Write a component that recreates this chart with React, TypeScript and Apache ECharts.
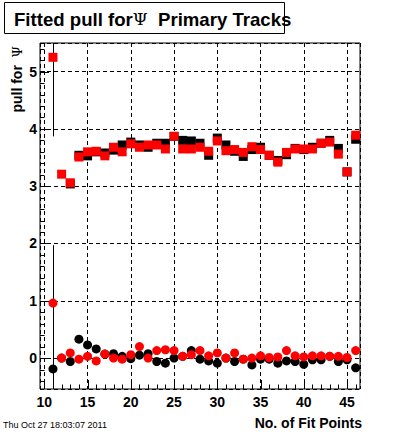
import React, { useEffect, useRef } from "react";
import * as echarts from "echarts";

const fitPoints = [11, 12, 13, 14, 15, 16, 17, 18, 19, 20, 21, 22, 23, 24, 25, 26, 27, 28, 29, 30, 31, 32, 33, 34, 35, 36, 37, 38, 39, 40, 41, 42, 43, 44, 45, 46];

const redSquare = [5.25, 3.21, 3.06, 3.51, 3.6, 3.61, 3.53, 3.68, 3.6, 3.74, 3.68, 3.72, 3.72, 3.65, 3.87, 3.65, 3.65, 3.68, 3.61, 3.79, 3.62, 3.64, 3.59, 3.69, 3.64, 3.54, 3.42, 3.59, 3.65, 3.65, 3.65, 3.75, 3.77, 3.56, 3.25, 3.89];
const blackSquare = [null, null, 3.04, 3.54, 3.53, 3.6, 3.58, 3.63, 3.72, 3.77, 3.72, 3.68, 3.75, 3.75, 3.87, 3.8, 3.79, 3.75, 3.54, 3.84, 3.72, 3.61, 3.52, 3.64, 3.68, 3.54, 3.45, 3.55, 3.66, 3.64, 3.68, 3.75, 3.8, 3.66, 3.25, 3.82];
const redCircle = [0.96, 0.0, 0.09, -0.02, 0.03, -0.05, 0.07, 0.0, -0.02, 0.06, 0.2, 0.0, 0.13, 0.145, 0.13, 0.03, 0.06, 0.13, 0.04, 0.09, 0.0, 0.09, -0.02, 0.0, 0.04, 0.01, 0.02, 0.13, 0.04, 0.02, 0.04, 0.04, 0.03, 0.03, 0.01, 0.13];
const blackCircle = [-0.19, 0.0, -0.06, 0.33, 0.23, 0.16, 0.07, 0.075, 0.03, -0.01, 0.05, 0.075, -0.06, -0.09, 0.0, 0.03, 0.13, -0.02, -0.05, -0.09, 0.0, -0.06, -0.02, -0.12, -0.02, -0.02, -0.09, -0.05, -0.06, -0.11, -0.03, -0.03, 0.03, -0.06, -0.03, -0.17];

// [x, low, high]
const errorBars = [
  [11, 3.87, 6.8],
  [11, -1.2, 1.97],
];

const X_MIN = 9.5;
const X_MAX = 46.5;
const Y_MIN = -0.54;
const Y_MAX = 5.5;

const titleText = "Fitted pull for{p|Ψ}  Primary Tracks";
const yTitle = "pull for  {p|Ψ}";
const xTitle = "No. of Fit Points";
const dateText = "Thu Oct 27 18:03:07 2011";

const pairs = (ys: (number | null)[]) =>
  fitPoints
    .map((x, i) => (ys[i] == null ? null : [x, ys[i]]))
    .filter((p) => p != null);

// tick marks: [x, y, length, direction(0 = x axis, 1 = y axis)]
const buildTicks = () => {
  const t: number[][] = [];
  for (let v = 10; v <= 46; v++) t.push([v, Y_MIN, v % 5 === 0 ? 9 : 4.5, 0]);
  for (let k = -2; k <= 27; k++) t.push([X_MIN, k / 5, k % 5 === 0 ? 9 : 4.5, 1]);
  return t;
};

const isInt = (v: number) => Math.abs(v - Math.round(v)) < 1e-6;

export default function App() {
  const ref = useRef<HTMLDivElement>(null);
  useEffect(() => {
    if (!ref.current) return;
    const chart = echarts.init(ref.current, null, { renderer: "svg" });
    const sans = "'Liberation Sans', Arial, Helvetica, sans-serif";
    const serif = "'DejaVu Serif', 'Liberation Serif', serif";
    chart.setOption({
      animation: false,
      backgroundColor: "#fff",
      grid: {
        left: 40,
        top: 43,
        width: 320,
        height: 346,
        show: true,
        borderColor: "#000",
        borderWidth: 1,
        backgroundColor: "#fff",
        containLabel: false,
      },
      xAxis: {
        type: "value",
        min: X_MIN,
        max: X_MAX,
        splitNumber: 7,
        axisLine: { show: false },
        axisTick: { show: false },
        splitLine: { show: true, lineStyle: { color: "#000", type: [4, 3], width: 1 } },
        axisLabel: {
          margin: 6,
          color: "#000",
          fontFamily: sans,
          fontWeight: "bold",
          fontSize: 14,
          showMinLabel: false,
          showMaxLabel: false,
          formatter: (v: number) => (isInt(v) && Math.round(v) % 5 === 0 ? String(Math.round(v)) : ""),
        },
      },
      yAxis: {
        type: "value",
        min: Y_MIN,
        max: Y_MAX,
        splitNumber: 6,
        axisLine: { show: false },
        axisTick: { show: false },
        splitLine: { show: true, lineStyle: { color: "#000", type: [4, 3], width: 1 } },
        axisLabel: {
          margin: 3,
          color: "#000",
          fontFamily: sans,
          fontWeight: "bold",
          fontSize: 14,
          formatter: (v: number) => (isInt(v) ? String(Math.round(v)) : ""),
        },
      },
      graphic: [
        {
          type: "rect",
          shape: { x: 4.5, y: 2.5, width: 280, height: 31 },
          style: { fill: "#fff", stroke: "#000", lineWidth: 1 },
        },
        {
          type: "text",
          x: 14,
          y: 19,
          style: {
            text: titleText,
            fill: "#000",
            fontFamily: sans,
            fontWeight: "bold",
            fontSize: 18.6,
            verticalAlign: "middle",
            align: "left",
            rich: {
              p: { fontFamily: serif, fontWeight: "normal", fontSize: 17, fill: "#000" },
            },
          },
        },
        {
          type: "text",
          x: 17,
          y: 46,
          rotation: Math.PI / 2,
          style: {
            text: yTitle,
            fill: "#000",
            fontFamily: sans,
            fontWeight: "bold",
            fontSize: 14,
            align: "right",
            verticalAlign: "middle",
            rich: {
              p: { fontFamily: serif, fontWeight: "normal", fontSize: 13, fill: "#000" },
            },
          },
        },
        {
          type: "text",
          x: 362,
          y: 423,
          style: {
            text: xTitle,
            fill: "#000",
            fontFamily: sans,
            fontWeight: "bold",
            fontSize: 14,
            align: "right",
            verticalAlign: "middle",
          },
        },
        {
          type: "text",
          x: 3,
          y: 425,
          style: {
            text: dateText,
            fill: "#000",
            fontFamily: sans,
            fontSize: 9,
            align: "left",
            verticalAlign: "middle",
          },
        },
      ],
      series: [
        {
          type: "custom",
          clip: true,
          data: errorBars,
          renderItem: (params: any, api: any) => {
            const lo = api.coord([api.value(0), api.value(1)]);
            const hi = api.coord([api.value(0), api.value(2)]);
            const x = Math.round(lo[0]) + 0.5;
            return {
              type: "line",
              shape: { x1: x, y1: lo[1], x2: x, y2: hi[1] },
              style: { stroke: "#000", lineWidth: 1 },
            };
          },
          z: 1,
        },
        {
          type: "scatter",
          data: pairs(blackSquare),
          symbol: "rect",
          symbolSize: 9,
          itemStyle: { color: "#000", opacity: 1 },
          z: 2,
        },
        {
          type: "scatter",
          data: pairs(redSquare),
          symbol: "rect",
          symbolSize: 9,
          itemStyle: { color: "#ff0000", opacity: 1 },
          z: 3,
        },
        {
          type: "scatter",
          data: pairs(blackCircle),
          symbol: "circle",
          symbolSize: 9,
          itemStyle: { color: "#000", opacity: 1 },
          z: 2,
        },
        {
          type: "scatter",
          data: pairs(redCircle),
          symbol: "circle",
          symbolSize: 9,
          itemStyle: { color: "#ff0000", opacity: 1 },
          z: 3,
        },
        {
          type: "custom",
          clip: false,
          silent: true,
          data: buildTicks(),
          renderItem: (params: any, api: any) => {
            const p = api.coord([api.value(0), api.value(1)]);
            const len = api.value(2);
            const dir = api.value(3);
            if (dir === 0) {
              const x = Math.round(p[0]) + 0.5;
              const y = Math.round(p[1]);
              return {
                type: "line",
                shape: { x1: x, y1: y, x2: x, y2: y - len },
                style: { stroke: "#000", lineWidth: 1 },
              };
            }
            const y = Math.round(p[1]) + 0.5;
            const x = Math.round(p[0]);
            return {
              type: "line",
              shape: { x1: x, y1: y, x2: x + len, y2: y },
              style: { stroke: "#000", lineWidth: 1 },
            };
          },
          z: 4,
        },
      ],
    });
    return () => chart.dispose();
  }, []);
  return (
    <div
      ref={ref}
      style={{ position: "fixed", left: 0, top: 0, width: 400, height: 433, background: "#fff" }}
    />
  );
}
